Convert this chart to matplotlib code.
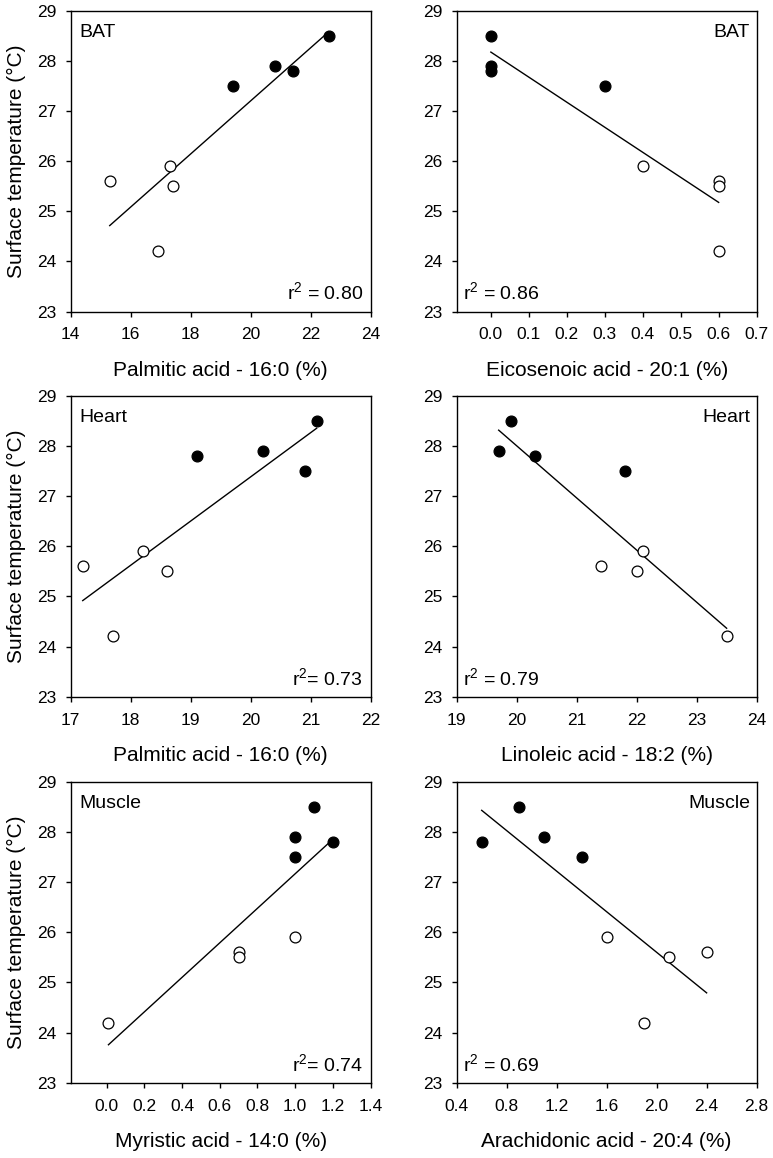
import numpy as np
import matplotlib
matplotlib.use("Agg")
import matplotlib.pyplot as plt

plt.rcParams['font.family'] = ['Liberation Sans', 'DejaVu Sans']
plt.rcParams['mathtext.fontset'] = 'custom'
plt.rcParams['mathtext.rm'] = 'Liberation Sans'
plt.rcParams['mathtext.it'] = 'Liberation Sans'
plt.rcParams['mathtext.default'] = 'regular'

# surface temperature of each animal (filled = warm group, open = cold group)
temp_filled = [27.5, 27.9, 27.8, 28.5]
temp_open = [25.6, 25.9, 25.5, 24.2]

# BAT
bat_palm_filled = [19.4, 20.8, 21.4, 22.6]
bat_palm_open = [15.3, 17.3, 17.4, 16.9]
bat_eico_filled = [0.3, 0.0, 0.0, 0.0]
bat_eico_open = [0.6, 0.4, 0.6, 0.6]

# Heart
heart_palm_filled = [20.9, 20.2, 19.1, 21.1]
heart_palm_open = [17.2, 18.2, 18.6, 17.7]
heart_lino_filled = [21.8, 19.7, 20.3, 19.9]
heart_lino_open = [21.4, 22.1, 22.0, 23.5]

# Muscle
musc_myr_filled = [1.0, 1.0, 1.2, 1.1]
musc_myr_open = [0.7, 1.0, 0.7, 0.01]
musc_ara_filled = [1.4, 1.1, 0.6, 0.9]
musc_ara_open = [2.4, 1.6, 2.1, 1.9]

panels = [
    dict(xf=bat_palm_filled, xo=bat_palm_open, xlabel='Palmitic acid - 16:0 (%)',
         xlim=(14, 24), xticks=np.arange(14, 25, 2), fmt='{:.0f}',
         tissue='BAT', tissue_left=True, r2='r$^2$ = 0.80'),
    dict(xf=bat_eico_filled, xo=bat_eico_open, xlabel='Eicosenoic acid - 20:1 (%)',
         xlim=(-0.09, 0.7), xticks=np.arange(0, 0.71, 0.1), fmt='{:.1f}',
         tissue='BAT', tissue_left=False, r2='r$^2$ = 0.86'),
    dict(xf=heart_palm_filled, xo=heart_palm_open, xlabel='Palmitic acid - 16:0 (%)',
         xlim=(17, 22), xticks=np.arange(17, 23, 1), fmt='{:.0f}',
         tissue='Heart', tissue_left=True, r2='r$^2$= 0.73'),
    dict(xf=heart_lino_filled, xo=heart_lino_open, xlabel='Linoleic acid - 18:2 (%)',
         xlim=(19, 24), xticks=np.arange(19, 25, 1), fmt='{:.0f}',
         tissue='Heart', tissue_left=False, r2='r$^2$ = 0.79'),
    dict(xf=musc_myr_filled, xo=musc_myr_open, xlabel='Myristic acid - 14:0 (%)',
         xlim=(-0.19, 1.4), xticks=np.arange(0, 1.41, 0.2), fmt='{:.1f}',
         tissue='Muscle', tissue_left=True, r2='r$^2$= 0.74'),
    dict(xf=musc_ara_filled, xo=musc_ara_open, xlabel='Arachidonic acid - 20:4 (%)',
         xlim=(0.4, 2.8), xticks=np.arange(0.4, 2.81, 0.4), fmt='{:.1f}',
         tissue='Muscle', tissue_left=False, r2='r$^2$ = 0.69'),
]

fig = plt.figure(figsize=(7.73, 11.58), dpi=100)
lefts = [0.0915, 0.5908]
bottoms = [0.731, 0.3984, 0.0650]
w, h = 0.388, 0.2598

for i, p in enumerate(panels):
    ax = fig.add_axes([lefts[i % 2], bottoms[i // 2], w, h])
    x = np.array(p['xf'] + p['xo'])
    y = np.array(temp_filled + temp_open)
    k, b = np.polyfit(x, y, 1)
    xs = np.array([x.min(), x.max()])
    ax.plot(xs, k * xs + b, color='black', lw=1.0, zorder=2)
    ax.plot(p['xo'], temp_open, 'o', ms=7.8, mfc='white', mec='black', mew=0.9, zorder=3)
    ax.plot(p['xf'], temp_filled, 'o', ms=7.8, mfc='black', mec='black', mew=0.9, zorder=3)

    ax.set_xlim(*p['xlim'])
    ax.set_ylim(23, 29)
    ax.set_xticks(p['xticks'])
    ax.set_xticklabels([p['fmt'].format(t) for t in p['xticks']])
    ax.set_yticks(range(23, 30))
    ax.tick_params(direction='out', length=3.5, width=1.0, labelsize=12.5,
                   top=False, right=False)
    ax.tick_params(axis='x', pad=8)
    ax.tick_params(axis='y', pad=7)
    for s in ax.spines.values():
        s.set_linewidth(1.0)
    ax.set_xlabel(p['xlabel'], fontsize=15, labelpad=13)
    if i % 2 == 0:
        ax.set_ylabel('Surface temperature (°C)', fontsize=15, labelpad=7.5)

    if p['tissue_left']:
        ax.text(0.03, 0.955, p['tissue'], transform=ax.transAxes, ha='left', va='top', fontsize=14)
        ax.text(0.975, 0.04, p['r2'], transform=ax.transAxes, ha='right', va='baseline', fontsize=14)
    else:
        ax.text(0.978, 0.955, p['tissue'], transform=ax.transAxes, ha='right', va='top', fontsize=14)
        ax.text(0.02, 0.04, p['r2'], transform=ax.transAxes, ha='left', va='baseline', fontsize=14)

fig.savefig('out.png', dpi=100)
